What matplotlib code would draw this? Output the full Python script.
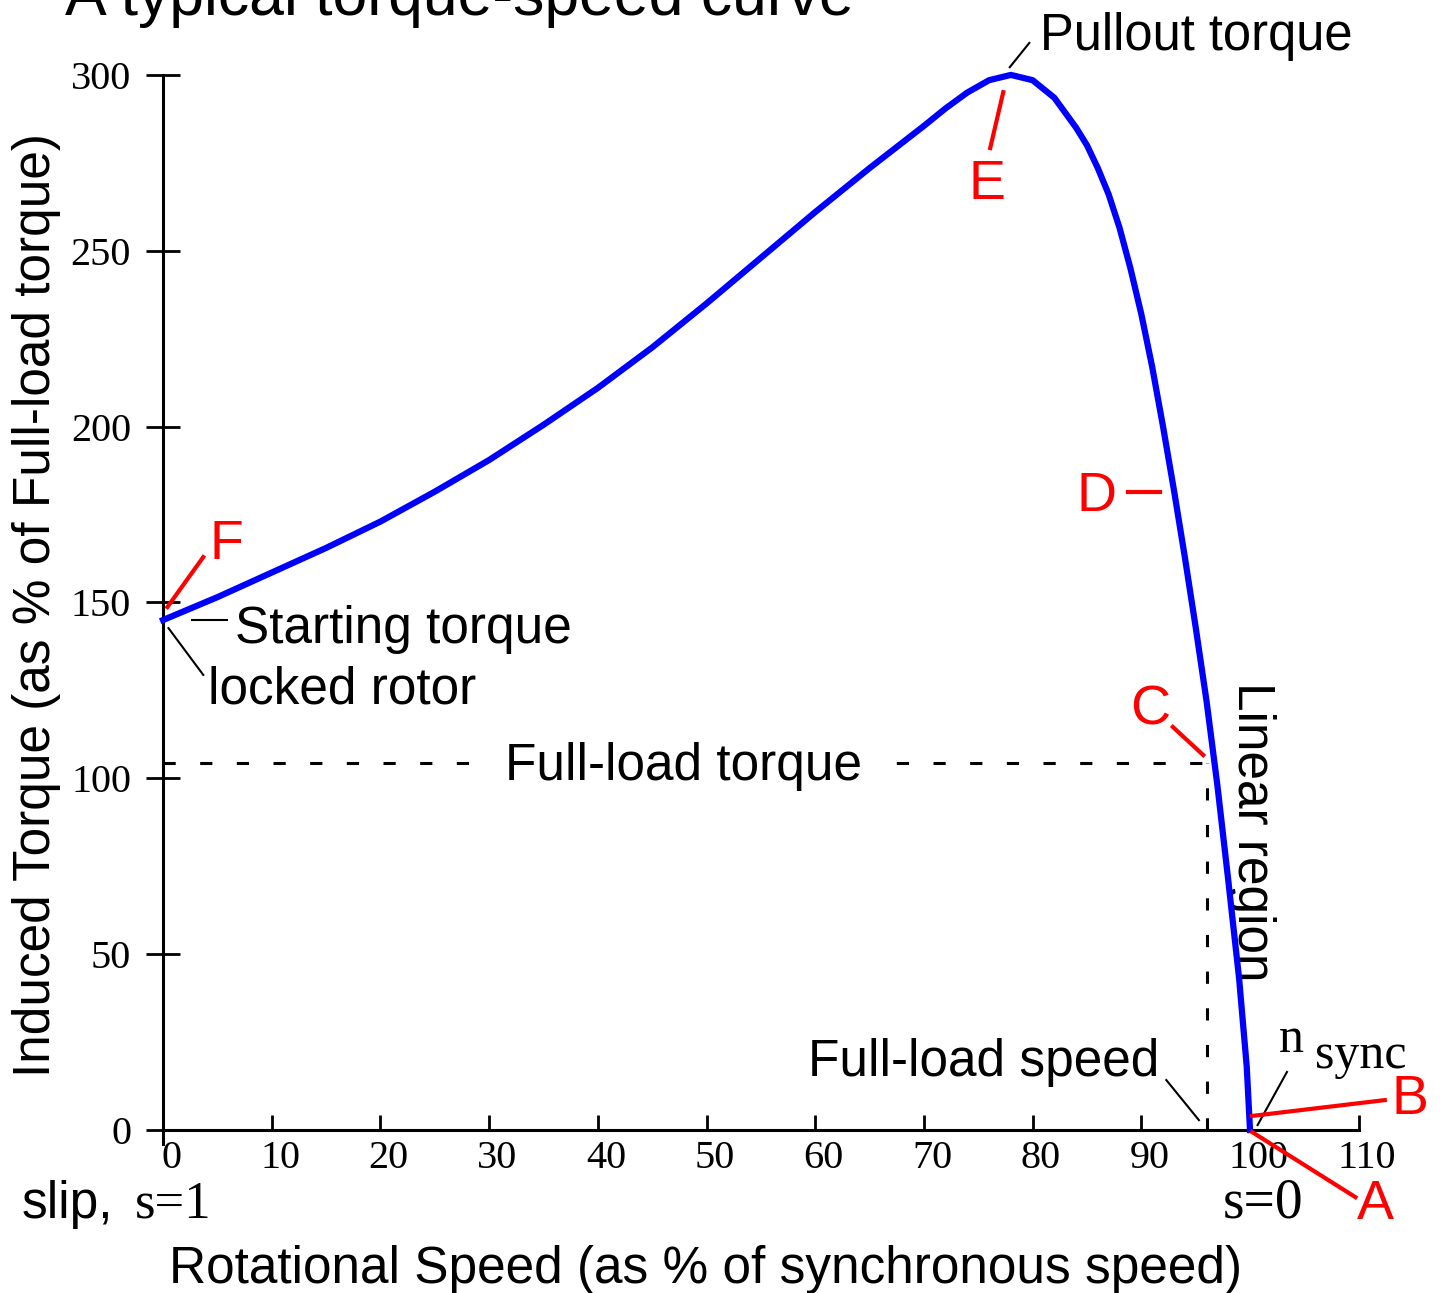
import numpy as np
import matplotlib.pyplot as plt
from matplotlib.transforms import ScaledTranslation

plt.rcParams['font.family'] = ['Liberation Sans', 'DejaVu Sans']

# torque-speed curve (speed and torque in % units)
speed = [0, 5, 10, 15, 20, 25, 30, 35, 40, 45, 50, 55, 60, 65, 70, 72, 74, 76, 78,
         80, 82, 84, 85, 86, 87, 88, 89, 90, 91, 92, 93, 94, 95, 96, 97, 98, 99,
         99.7, 100]
torque = [145, 151.5, 158.5, 165.5, 173, 181.5, 190.5, 200.5, 211, 222.5, 235, 248,
          261, 273.5, 285.5, 290.5, 295, 298.5, 300, 298.5, 293.5, 285, 280, 273.5,
          266, 256.5, 245, 232, 217, 200, 182, 163, 143, 122, 98, 71, 43, 18, 0]

x_ticks = list(range(0, 111, 10))
y_ticks = list(range(0, 301, 50))
full_load_speed = 96
full_load_torque = 104.4

RED = '#ff0000'
BLUE = '#0000ff'
SERIF = 'Liberation Serif'

fig = plt.figure(figsize=(14.4, 12.93), dpi=100)
ax = fig.add_axes([0, 0, 1, 1])
ax.set_xlim(-15.0, 117.48)
ax.set_ylim(-46.35, 321.3)
ax.patch.set_visible(False)

# axes drawn as two crossing lines at the origin
for s in ['top', 'right']:
    ax.spines[s].set_visible(False)
ax.spines['left'].set_position(('data', 0))
ax.spines['bottom'].set_position(('data', 0))
ax.spines['left'].set_bounds(-4, 300)
ax.spines['bottom'].set_bounds(0, 110)
for s in ['left', 'bottom']:
    ax.spines[s].set_linewidth(2.2)

ax.set_xticks(x_ticks)
ax.set_yticks(y_ticks)
ax.set_xticklabels([str(v) for v in x_ticks], fontfamily=SERIF, fontsize=29)
ax.set_yticklabels([str(v) for v in y_ticks], fontfamily=SERIF, fontsize=29)
ax.tick_params(axis='x', direction='in', length=11, width=2, pad=7)
ax.tick_params(axis='y', direction='inout', length=24, width=2, pad=11)
# x labels sit a little right of their ticks in the original
shift = ScaledTranslation(6 / 72, 0, fig.dpi_scale_trans)
for lbl in ax.get_xticklabels():
    lbl.set_transform(lbl.get_transform() + shift)

# curve
ax.plot(speed, torque, color=BLUE, lw=4.5, zorder=5)

# full-load lines
ax.plot([0, full_load_speed], [full_load_torque, full_load_torque],
        color='black', lw=2.2, dashes=(4, 8), zorder=2)
ax.plot([full_load_speed, full_load_speed], [0, full_load_torque],
        color='black', lw=2.2, dashes=(4, 8), zorder=2)

# titles and axis labels
ax.text(-9.0, 317.0, 'A typical torque-speed curve', fontsize=45,
        ha='left', va='baseline')
ax.text(-11.6, 149.3, 'Induced Torque (as % of Full-load torque)', fontsize=37,
        rotation=90, ha='center', va='center')
ax.text(49.9, -43.5, 'Rotational Speed (as % of synchronous speed)', fontsize=37,
        ha='center', va='baseline')

# black annotations
ax.text(80.7, 307.0, 'Pullout torque', fontsize=36.5, ha='left', va='baseline')
ax.text(6.6, 138.5, 'Starting torque', fontsize=37, ha='left', va='baseline')
ax.text(4.1, 121.4, 'locked rotor', fontsize=37, ha='left', va='baseline')
ax.text(47.9, 99.5, 'Full-load torque', fontsize=37, ha='center', va='baseline',
        zorder=4, bbox=dict(fc='white', ec='none', pad=20))
ax.text(59.3, 15.4, 'Full-load speed', fontsize=37, ha='left', va='baseline')
ax.text(100.1, 84.7, 'Linear region', fontsize=37, rotation=-90,
        ha='center', va='center')
ax.text(-13.0, -25.0, 'slip,', fontsize=37, ha='left', va='baseline')
ax.text(-2.6, -25.0, 's=1', fontsize=38, family=SERIF, ha='left', va='baseline')
ax.text(101.2, -25.0, 's=0', fontsize=40, family=SERIF, ha='center', va='baseline')
ax.text(103.8, 22.2, 'n', fontsize=36, family=SERIF, ha='center', va='baseline')
ax.text(106.0, 17.6, 'sync', fontsize=36, family=SERIF, ha='left', va='baseline')

black_leaders = [
    ((77.9, 79.7), (302.2, 309.1)),
    ((2.7, 5.9), (145.0, 145.0)),
    ((0.5, 3.7), (142.7, 129.4)),
    ((92.3, 95.3), (14.2, 2.8)),
    ((100.7, 103.4), (1.4, 16.5)),
]
for xs, ys in black_leaders:
    ax.plot(xs, ys, color='black', lw=1.5, zorder=3)

# red point labels
red_points = {
    'A': ((111.5, -21.3), (100.2, 109.7), (-0.6, -19.1)),
    'B': ((114.7, 8.5), (100.2, 112.4), (4.0, 8.5)),
    'C': ((90.8, 119.4), (92.9, 95.7), (114.6, 106.6)),
    'D': ((85.9, 180.0), (88.8, 91.7), (181.4, 181.4)),
    'E': ((75.8, 268.7), (77.3, 76.1), (295.1, 279.2)),
    'F': ((5.8, 166.3), (0.4, 3.7), (148.7, 162.9)),
}
for name, (pos, xs, ys) in red_points.items():
    ax.plot(xs, ys, color=RED, lw=3, zorder=6)
    ax.text(pos[0], pos[1], name, color=RED, fontsize=40,
            ha='center', va='center', zorder=7)

fig.savefig('out.png', dpi=100)
